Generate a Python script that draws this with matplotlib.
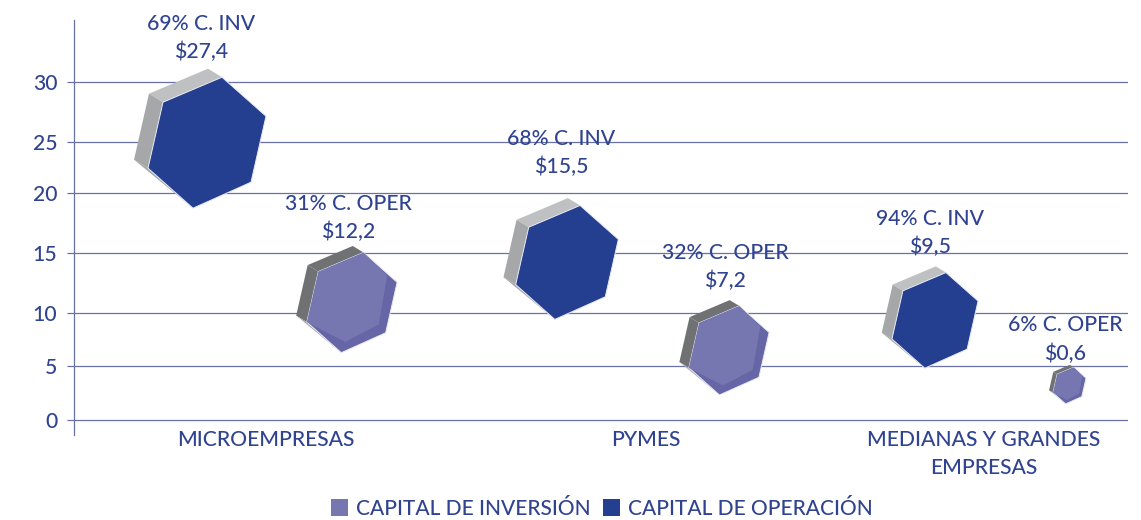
import numpy as np
import matplotlib
matplotlib.use("Agg")
import matplotlib.pyplot as plt
from matplotlib.patches import Polygon, Patch
from matplotlib.transforms import Affine2D, ScaledTranslation

categories = ["MICROEMPRESAS", "PYMES", "MEDIANAS Y GRANDES\nEMPRESAS"]
category_x = [2.66, 6.46, 9.84]
series_names = ["CAPITAL DE INVERSIÓN", "CAPITAL DE OPERACIÓN"]
bubble_x = [2.07, 3.52, 5.67, 7.29, 9.35, 10.695]
bubble_y = [24.98, 10.9, 14.25, 6.5, 9.34, 3.2]
bubble_size = [1.0, 0.765, 0.87, 0.68, 0.73, 0.28]
bubble_series = [1, 0, 1, 0, 1, 0]
share_labels = ["69% C. INV", "31% C. OPER", "68% C. INV", "32% C. OPER", "94% C. INV", "6% C. OPER"]
value_labels = ["$27,4", "$12,2", "$15,5", "$7,2", "$9,5", "$0,6"]
label_offset = [(-6, 104), (-4, 84), (-6, 109), (-4, 83), (-5, 87), (-4, 46)]
y_ticks = [0, 5, 10, 15, 20, 25, 30]
y_tick_height = [0, 54, 107, 167, 227, 278, 338]   # uneven gridline spacing of the original

NAVY, LILAC, LILAC_DARK = "#243f90", "#7676b0", "#6666a6"
TEXT, GRID = "#2f4390", "#6a70a8"
plt.rcParams["font.family"] = ["Lato", "DejaVu Sans"]
WEIGHT = 500

fig = plt.figure(figsize=(11.41, 5.2), dpi=100)
ax = fig.add_axes([74 / 1141, 85 / 520, 1054 / 1141, 415 / 520])

nodes_y = [-100] + y_ticks + [130]
nodes_h = [-1127] + y_tick_height + [338 + 1127]
ax.set_yscale("function", functions=(lambda v: np.interp(v, nodes_y, nodes_h),
                                     lambda h: np.interp(h, nodes_h, nodes_y)))
ax.set_xlim(0.74, 11.28)
ax.set_ylim(np.interp(-15, nodes_h, nodes_y), np.interp(400, nodes_h, nodes_y))

ax.set_yticks(y_ticks)
ax.set_yticklabels([str(t) for t in y_ticks], fontweight=WEIGHT)
ax.set_xticks(category_x)
ax.set_xticklabels(categories, linespacing=1.5, fontweight=WEIGHT)
ax.minorticks_off()
ax.tick_params(axis="x", length=0, pad=-3.5, labelsize=15.2, labelcolor=TEXT)
ax.tick_params(axis="y", length=5, width=0.9, color=GRID, pad=7, labelsize=15.2, labelcolor=TEXT)
for s in ["top", "right", "bottom"]:
    ax.spines[s].set_visible(False)
ax.spines["left"].set_color(GRID)
ax.spines["left"].set_linewidth(0.9)
ax.grid(axis="y", color=GRID, lw=0.9, zorder=0)
ax.set_axisbelow(True)

# unit hexagon (screen pixels, y up): top, right-up, right-low, bottom, left-low, left-up
HEX = np.array([(15, 65), (59, 26), (44, -40), (-14, -66), (-59, -26), (-44, 40)], float)
SHIFT = np.array([-14, 8.5])
# lighter face of the bevelled lilac hexagons
FACE = np.array([(15, 65), (46, 35), (35, -29), (-9, -52), (-59, -26), (-44, 40)], float)


def add_poly(verts, scale, x, y, color, z, ec="none", lw=0):
    tr = Affine2D().scale(scale) + ScaledTranslation(x, y, ax.transData)
    ax.add_patch(Polygon(verts, closed=True, transform=tr, fc=color, ec=ec, lw=lw,
                         zorder=z, clip_on=False))


for x, y, s, ser, share, val, off in zip(bubble_x, bubble_y, bubble_size, bubble_series,
                                         share_labels, value_labels, label_offset):
    back = HEX + SHIFT
    top_c, side_c = ("#bfc0c2", "#a5a7a9") if ser == 1 else ("#6f7172", "#6f7172")
    add_poly([HEX[5], HEX[0], back[0], back[5]], s, x, y, top_c, 3)
    add_poly([HEX[4], HEX[5], back[5], back[4]], s, x, y, side_c, 3)
    add_poly([HEX[3], HEX[4], back[4]], s, x, y, "#a5a7a9", 3)
    if ser == 1:
        add_poly(HEX, s, x, y, NAVY, 4, ec="#e8e9f2", lw=0.7)
    else:
        add_poly(HEX, s, x, y, LILAC_DARK, 4, ec="#e8e9f2", lw=0.7)
        add_poly(FACE, s, x, y, LILAC, 5)
    ax.annotate(f"{share}\n{val}", (x, y), xytext=off, textcoords="offset pixels",
                ha="center", va="center", color=TEXT, fontsize=15.2, fontweight=WEIGHT,
                linespacing=1.5, zorder=6, annotation_clip=False)

handles = [Patch(fc=LILAC, ec="none"), Patch(fc=NAVY, ec="none")]
fig.legend(handles, series_names, loc="center", bbox_to_anchor=(602 / 1141, 1 - 509 / 520),
           ncol=2, frameon=False, prop={"size": 15, "weight": WEIGHT}, labelcolor=TEXT,
           handlelength=0.8, handleheight=0.9, handletextpad=0.4, columnspacing=0.6)
fig.savefig("out.png", dpi=100, facecolor="white")
